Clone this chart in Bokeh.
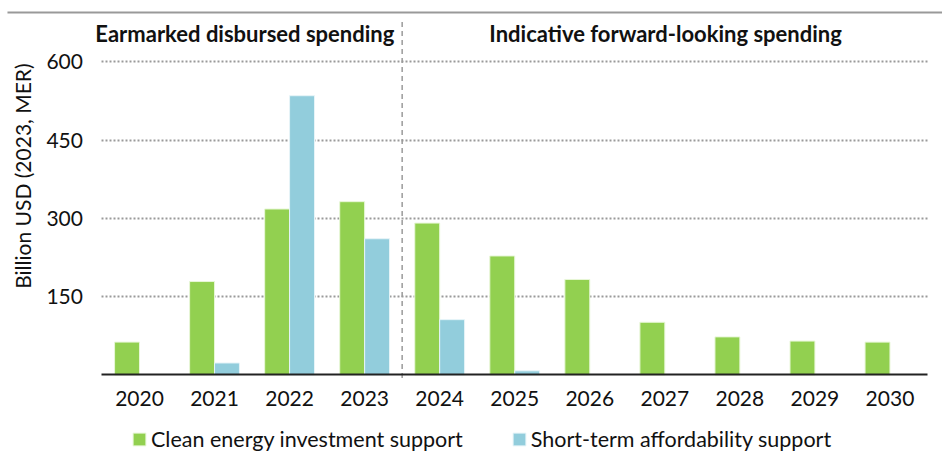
from bokeh.plotting import figure
from bokeh.models import (Range1d, Label, Legend, LegendItem, BoxAnnotation,
                          FixedTicker, ColumnDataSource)
from bokeh.transform import dodge
from bokeh.embed import file_html
from bokeh.resources import INLINE

# ---- data ----
years = [2020, 2021, 2022, 2023, 2024, 2025, 2026, 2027, 2028, 2029, 2030]
clean_energy = [63, 179, 318, 332, 291, 228, 183, 101, 73, 65, 63]
affordability = [0, 23, 535, 261, 106, 8, 0, 0, 0, 0, 0]
y_ticks = [150, 300, 450, 600]
y_title = "Billion USD (2023, MER)"
header_left = "Earmarked disbursed spending"
header_right = "Indicative forward-looking spending"
first_forward_year = 2024
series_names = ["Clean energy investment support", "Short-term affordability support"]
colors = ["#92D050", "#92CDDC"]

FONT = "Lato"
TXT = "#111111"

x_lo, x_hi = years[0] - 0.5, years[-1] + 0.5  # band edges of the category axis
X_START, X_END = 2018.148, 2030.700
Y_START, Y_END = -148.5, 717.4

p = figure(width=942, height=452, output_backend="svg", toolbar_location=None,
           x_range=Range1d(X_START, X_END),
           y_range=Range1d(Y_START, Y_END),
           min_border_left=0, min_border_right=0, min_border_top=0, min_border_bottom=0)
p.outline_line_color = None

# thin grey rule across the top of the chart
p.add_layout(BoxAnnotation(left=X_START + 0.093, right=X_END, top=696.4, bottom=692.6,
                           fill_color="#999999", fill_alpha=1, line_color=None))

# grid (limited to the category band)
p.xgrid.grid_line_color = None
g = p.ygrid[0]
g.ticker = FixedTicker(ticks=y_ticks)
if "cross_bounds" in g.properties():
    g.cross_bounds = (x_lo, x_hi)
    g.grid_line_color = "#9a9a9a"
    g.grid_line_dash = "2 2"
    g.grid_line_width = 2
else:
    g.grid_line_color = None
    p.segment(x0=[x_lo] * len(y_ticks), x1=[x_hi] * len(y_ticks), y0=y_ticks, y1=y_ticks,
              line_color="#9a9a9a", line_dash="2 2", line_width=2)

# bars (skip zero values)
src_c = ColumnDataSource(dict(x=[y for y, v in zip(years, clean_energy) if v > 0],
                              top=[v for v in clean_energy if v > 0]))
src_a = ColumnDataSource(dict(x=[y for y, v in zip(years, affordability) if v > 0],
                              top=[v for v in affordability if v > 0]))
r1 = p.vbar(x=dodge("x", -0.166), top="top", width=0.332, source=src_c,
            fill_color=colors[0], line_color="#e8f7d8", line_width=1)
r2 = p.vbar(x=dodge("x", 0.166), top="top", width=0.332, source=src_a,
            fill_color=colors[1], line_color="#e6f4f8", line_width=1)

# separator between disbursed and forward-looking
sep = first_forward_year - 0.5
p.segment(x0=[sep], y0=[-6], x1=[sep], y1=[677], line_color="#9a9a9a",
          line_dash="5 4", line_width=1.5)

# x axis drawn at y = 0 inside the frame
p.xaxis.fixed_location = 0
p.xaxis.bounds = (x_lo, x_hi)
p.xaxis.ticker = FixedTicker(ticks=years)
p.xaxis.axis_line_color = "#222222"
p.xaxis.axis_line_width = 2
p.xaxis.major_tick_line_color = None
p.xaxis.minor_tick_line_color = None
p.xaxis.major_label_text_font = FONT
p.xaxis.major_label_text_font_size = "21px"
p.xaxis.major_label_text_color = TXT
p.xaxis.major_label_standoff = 10

# y axis drawn at the left edge of the category band
p.yaxis.fixed_location = x_lo
p.yaxis.ticker = FixedTicker(ticks=y_ticks)
p.yaxis.axis_line_color = None
p.yaxis.major_tick_line_color = None
p.yaxis.minor_tick_line_color = None
p.yaxis.major_label_text_font = FONT
p.yaxis.major_label_text_font_size = "21px"
p.yaxis.major_label_text_color = TXT
p.yaxis.major_label_standoff = 13

# headers
p.add_layout(Label(x=2020 + 1.404, y=654, text=header_left, text_align="center", text_baseline="middle",
                   text_font=FONT, text_font_style="bold", text_font_size="22px", text_color=TXT))
p.add_layout(Label(x=2020 + 7.01, y=654, text=header_right, text_align="center", text_baseline="middle",
                   text_font=FONT, text_font_style="bold", text_font_size="22px", text_color=TXT))

# y title
p.add_layout(Label(x=2018.441, y=381, text=y_title, angle=1.5707963, text_align="center",
                   text_baseline="middle", text_font=FONT, text_font_size="21px", text_color=TXT))

legend = Legend(items=[LegendItem(label=series_names[0], renderers=[r1]),
                       LegendItem(label=series_names[1], renderers=[r2])],
                location=(131, 0), orientation="horizontal", spacing=48,
                glyph_width=16, glyph_height=16, label_standoff=4,
                padding=0, margin=0, border_line_color=None, background_fill_alpha=0,
                label_text_font=FONT, label_text_font_size="21.5px", label_text_color=TXT)
p.add_layout(legend)

open("out.html", "w").write(file_html(p, INLINE))
